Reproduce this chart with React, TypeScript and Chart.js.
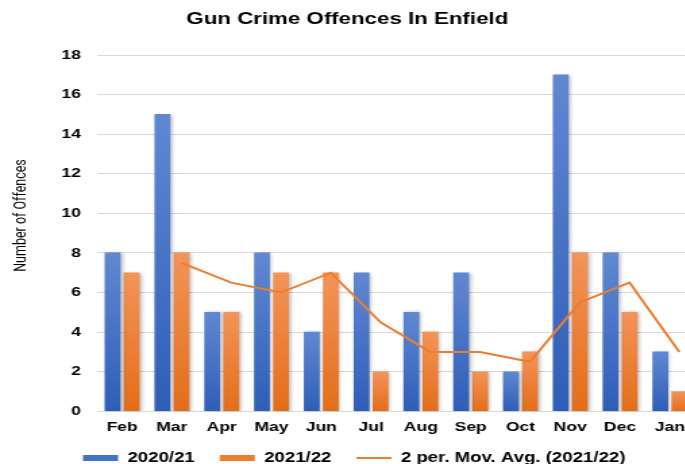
import { useEffect, useRef } from 'react';
import { Chart, registerables } from 'chart.js';

Chart.register(...registerables);

// ---- data ----
const months = ['Feb', 'Mar', 'Apr', 'May', 'Jun', 'Jul', 'Aug', 'Sep', 'Oct', 'Nov', 'Dec', 'Jan'];
const offences2020 = [8, 15, 5, 8, 4, 7, 5, 7, 2, 17, 8, 3];
const offences2021 = [7, 8, 5, 7, 7, 2, 4, 2, 3, 8, 5, 1];
const movingAvg2021 = [null, 7.5, 6.5, 6, 7, 4.5, 3, 3, 2.5, 5.5, 6.5, 3];
const seriesLabels = ['2020/21', '2021/22', '2 per. Mov. Avg. (2021/22)'];
const titleText = 'Gun Crime Offences In Enfield';
const yTitleText = 'Number of Offences';
const yMax = 18;
const yStep = 2;

// ---- layout / style ----
const STRETCH = 1.35; // the reference is horizontally stretched
const W = 520;
const H = 464;
const GROUP_SHIFT = 0.191; // offset of each bar centre from its category centre (in categories)
const BAR_THICKNESS = 11.1;
const FONT = "'Liberation Sans', Arial, sans-serif";
const BLUE = ['#6088d2', '#2f5eb8'];
const ORANGE = ['#f3945a', '#e56d19'];
const LINE_COLOR = '#ed7d31';
const GRID = '#d9d9d9';
const LEGEND_DX = 5.1;
const LEGEND_DY = -2.3;

function barFill(top: string, bottom: string) {
  return (c: any) => {
    const chart = c.chart;
    const y = chart.scales && chart.scales.y;
    const v = c.raw && typeof c.raw === 'object' ? c.raw.y : c.raw;
    if (!y || v == null || !chart.chartArea) return bottom;
    const y0 = y.getPixelForValue(v);
    const y1 = y.getPixelForValue(0);
    if (!isFinite(y0) || !isFinite(y1) || Math.abs(y1 - y0) < 0.5) return bottom;
    const g = chart.ctx.createLinearGradient(0, y0, 0, y1);
    g.addColorStop(0, top);
    g.addColorStop(1, bottom);
    return g;
  };
}

const extrasPlugin = {
  id: 'extras',
  afterLayout(chart: any) {
    const lg = chart.legend;
    if (lg) {
      lg.left += LEGEND_DX;
      lg.right += LEGEND_DX;
      lg.top += LEGEND_DY;
      lg.bottom = H + 20;
    }
  },
  beforeDatasetDraw(chart: any, args: any) {
    if (args.meta.type === 'bar') {
      const ctx = chart.ctx;
      ctx.save();
      ctx.shadowColor = 'rgba(0,0,0,0.28)';
      ctx.shadowBlur = 3;
      ctx.shadowOffsetX = 1.5;
      ctx.shadowOffsetY = 0.5;
    }
  },
  afterDatasetDraw(chart: any, args: any) {
    if (args.meta.type === 'bar') chart.ctx.restore();
  },
  afterDraw(chart: any) {
    const ctx = chart.ctx;
    ctx.save();
    ctx.translate(15.6, 215.5);
    ctx.rotate(-Math.PI / 2);
    ctx.font = "12.5px Roboto, 'Liberation Sans', sans-serif";
    ctx.fillStyle = '#000';
    ctx.textAlign = 'center';
    ctx.textBaseline = 'middle';
    ctx.fillText(yTitleText, 0, 0);
    ctx.restore();
  },
};

export default function App() {
  const ref = useRef<HTMLCanvasElement | null>(null);

  useEffect(() => {
    if (!ref.current) return;
    const toPoints = (arr: (number | null)[], shift: number) =>
      arr.map((v, i) => ({ x: i + shift, y: v })).filter((p) => p.y != null);

    const chart = new Chart(ref.current, {
      type: 'bar',
      data: {
        labels: months,
        datasets: [
          {
            type: 'bar',
            label: seriesLabels[0],
            data: toPoints(offences2020, -GROUP_SHIFT) as any,
            backgroundColor: barFill(BLUE[0], BLUE[1]),
            borderWidth: 0,
            grouped: false,
            barThickness: BAR_THICKNESS,
            xAxisID: 'xPos',
            order: 2,
          },
          {
            type: 'bar',
            label: seriesLabels[1],
            data: toPoints(offences2021, GROUP_SHIFT) as any,
            backgroundColor: barFill(ORANGE[0], ORANGE[1]),
            borderWidth: 0,
            grouped: false,
            barThickness: BAR_THICKNESS,
            xAxisID: 'xPos',
            order: 2,
          },
          {
            type: 'line',
            label: seriesLabels[2],
            data: toPoints(movingAvg2021, GROUP_SHIFT) as any,
            borderColor: LINE_COLOR,
            backgroundColor: LINE_COLOR,
            borderWidth: 2,
            pointRadius: 0,
            tension: 0,
            xAxisID: 'xPos',
            order: 0,
          } as any,
        ],
      },
      options: {
        responsive: false,
        animation: false,
        layout: { padding: { left: 0, right: 5.4, top: 0, bottom: 0 } },
        scales: {
          x: {
            type: 'category',
            labels: months,
            offset: true,
            grid: { display: false, drawTicks: false },
            border: { display: true, color: GRID, width: 1 },
            ticks: { color: '#000', font: { family: FONT, size: 13, weight: 'bold', lineHeight: 1.2 }, padding: 8, maxRotation: 0, autoSkip: false },
            afterFit: (s: any) => { s.height = 23.6; },
          },
          xPos: {
            type: 'linear',
            axis: 'x',
            display: false,
            offset: false,
            bounds: 'data',
            grace: 0,
            min: -0.5,
            max: 11.5,
          },
          y: {
            min: 0,
            max: yMax,
            ticks: { stepSize: yStep, color: '#000', font: { family: FONT, size: 13, weight: 'bold' }, padding: 12 },
            grid: { color: GRID, drawTicks: false },
            border: { display: false },
            afterFit: (s: any) => { s.width = 72; },
          },
        },
        plugins: {
          title: {
            display: true,
            text: titleText,
            color: '#000',
            font: { family: FONT, size: 16.5, weight: 'bold' },
            padding: { top: 9.6, bottom: 25.6 },
          },
          legend: {
            position: 'bottom',
            maxHeight: 29.1,
            labels: {
              usePointStyle: true,
              pointStyleWidth: 26,
              boxHeight: 6,
              padding: 18.5,
              color: '#000',
              font: { family: FONT, size: 13.8, weight: 'bold' },
              generateLabels: (ch: any) => {
                const items = (Chart.defaults.plugins.legend.labels as any).generateLabels(ch);
                items.sort((a: any, b: any) => a.datasetIndex - b.datasetIndex);
                items.forEach((it: any) => {
                  const i = it.datasetIndex;
                  it.text = seriesLabels[i];
                  if (i === 0 || i === 1) {
                    it.pointStyle = 'rect';
                    it.fillStyle = i === 0 ? '#4472c4' : LINE_COLOR;
                    it.strokeStyle = 'transparent';
                    it.lineWidth = 0;
                  } else {
                    it.pointStyle = 'line';
                    it.fillStyle = LINE_COLOR;
                    it.strokeStyle = LINE_COLOR;
                    it.lineWidth = 2;
                  }
                });
                return items;
              },
            },
          },
          tooltip: { enabled: false },
        },
      } as any,
      plugins: [extrasPlugin],
    });
    return () => chart.destroy();
  }, []);

  return (
    <div style={{ position: 'fixed', left: 0, top: 0, width: 685, height: 464, overflow: 'hidden', background: '#fff' }}>
      <div style={{ width: W, height: H, transform: `scaleX(${STRETCH})`, transformOrigin: '0 0' }}>
        <canvas ref={ref} width={W} height={H} style={{ display: 'block' }} />
      </div>
    </div>
  );
}
